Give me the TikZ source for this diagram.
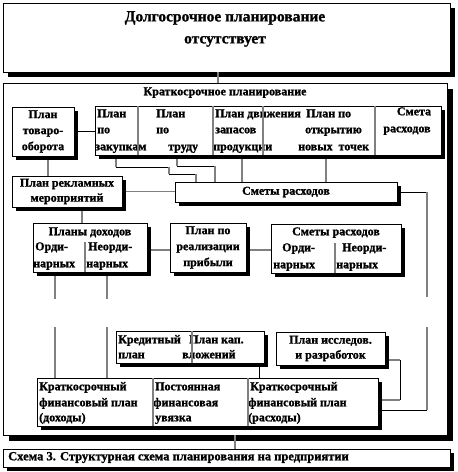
\documentclass[tikz,border=0pt]{standalone}
\usepackage{fontspec}
\setmainfont{Liberation Serif}[BoldFeatures={FakeBold=1.2}]
\usetikzlibrary{shadows}
\pgfdeclarelayer{bg}
\pgfdeclarelayer{conn}
\pgfsetlayers{bg,conn,main}
\tikzset{
  box/.style={draw=black, line width=0.8pt, fill=white, inner sep=0pt, outer sep=0pt,
    anchor=north west, general shadow={fill=black, shadow xshift=#1, shadow yshift=-#1}},
  box/.default=4pt,
  txt/.style={font=\bfseries\fontsize{12}{16}\selectfont, inner sep=0pt, align=center},
  lt/.style={txt, anchor=mid west},
  ct/.style={txt, anchor=mid},
  gl/.style={draw=gray, line width=1.4pt},
  bl/.style={draw=black, line width=0.8pt},
  dv/.style={draw=gray, line width=1.2pt},
}
\begin{document}
\begin{tikzpicture}[x=1pt,y=-1pt]
\useasboundingbox (0,0) rectangle (458,472);
\begin{pgfonlayer}{bg}
\fill[white] (0,0) rectangle (458,472);
\node[box=5pt, minimum width=447pt, minimum height=69pt] (top) at (3,3) {};
\node[box=6pt, minimum width=444pt, minimum height=352pt] (outer) at (3,83) {};
\end{pgfonlayer}
\node[txt, font=\bfseries\fontsize{15.5}{22}\selectfont] (toptxt) at (225,29) {Долгосрочное планирование\\отсутствует};
\node[ct] (outtitle) at (225,93) {Краткосрочное планирование};

% boxes
\node[box, minimum width=62pt, minimum height=49pt, txt, anchor=north west] (tov) at (12,107) {План\\товаро-\\оборота};
\node[box, minimum width=346pt, minimum height=49pt] (row) at (95,106) {};
\node[box, minimum width=110pt, minimum height=31pt, txt, anchor=north west, font=\bfseries\fontsize{12}{15}\selectfont] (rek) at (12,176) {План рекламных\\мероприятий};
\node[box, minimum width=222pt, minimum height=20pt, txt, anchor=north west] (smm) at (175,182) {Сметы расходов};
\node[box, minimum width=114pt, minimum height=49pt] (doh) at (33,223) {};
\node[box, minimum width=76pt, minimum height=49pt, txt, anchor=north west] (real) at (170,223) {План по\\реализации\\прибыли};
\node[box, minimum width=130pt, minimum height=49pt] (smb) at (271,224) {};
\node[box, minimum width=148pt, minimum height=32pt] (kred) at (116,331) {};
\node[box, minimum width=109pt, minimum height=33pt, txt, anchor=north west, font=\bfseries\fontsize{12}{15}\selectfont] (issl) at (276,332) {План исследов.\\и разработок};
\node[box, minimum width=341pt, minimum height=48pt] (fin) at (37,378) {};
\node[box, minimum width=447pt, minimum height=18pt] (cap) at (3,449) {};

% texts in row
\node[lt] (r1a) at (97,115) {План};
\node[lt] (r1b) at (97,131) {по};
\node[lt] (r1c) at (95,148) {закупкам};
\node[lt] (r2a) at (156,115) {План};
\node[lt] (r2b) at (156,131) {по};
\node[lt] (r2c) at (168,148) {труду};
\node[lt] (r3a) at (215,115) {План движения};
\node[lt] (r3b) at (215,131) {запасов};
\node[lt] (r3c) at (213,148) {продукции};
\node[lt] (r4a) at (306,115) {План по};
\node[lt] (r4b) at (305,131) {открытию};
\node[lt] (r4c) at (298,148) {новых\ \ точек};
\node[ct] (r5a) at (414,113) {Смета};
\node[ct] (r5b) at (407,130) {расходов};

% texts in doh
\node[ct] (dt) at (90,233) {Планы доходов};
\node[lt] (d1) at (35,248) {Орди-};
\node[lt] (d2) at (33,265) {нарных};
\node[lt] (d3) at (88,248) {Неорди-};
\node[lt] (d4) at (86,265) {нарных};
% texts in smb
\node[ct] (st) at (336,233) {Сметы расходов};
\node[lt] (s1) at (282,249) {Орди-};
\node[lt] (s2) at (273,266) {нарных};
\node[lt] (s3) at (342,249) {Неорди-};
\node[lt] (s4) at (336,266) {нарных};
% kred
\node[lt] (k1) at (118,341) {Кредитный};
\node[lt] (k2) at (118,356) {план};
\node[lt] (k3) at (189,341) {План кап.};
\node[lt] (k4) at (182,356) {вложений};
% fin
\node[lt] (f1) at (39,388) {Краткосрочный};
\node[lt] (f2) at (39,404) {финансовый план};
\node[lt] (f3) at (39,419) {(доходы)};
\node[lt] (f4) at (155,388) {Постоянная};
\node[lt] (f5) at (153,404) {финансовая};
\node[lt] (f6) at (155,419) {увязка};
\node[lt] (f7) at (250,388) {Краткосрочный};
\node[lt] (f8) at (248,404) {финансовый план};
\node[lt] (f9) at (248,419) {(расходы)};
% caption
\node[lt, font=\bfseries\fontsize{12.5}{16}\selectfont] (captxt) at (8,458) {Схема 3. Структурная схема планирования на предприятии};

% dividers
\foreach \o in {43,118,168,280}
  \draw[dv] ([xshift=\o pt]row.north west) -- ([xshift=\o pt]row.south west);
\draw[dv] ([xshift=52pt]doh.south west) -- ++(0,-30);
\draw[dv] ([xshift=64pt]smb.south west) -- ++(0,-30);
\draw[dv] ([xshift=76pt]kred.north west) -- ([xshift=76pt]kred.south west);
\draw[dv] ([xshift=116pt]fin.north west) -- ([xshift=116pt]fin.south west);
\draw[dv] ([xshift=211pt]fin.north west) -- ([xshift=211pt]fin.south west);

% connectors
\begin{pgfonlayer}{conn}
\draw[gl] ([xshift=215pt]top.south west) -- ([xshift=215pt]outer.north west);
\draw[bl] (tov.east) -- (tov.east -| row.west);
\draw[gl] ([xshift=36pt]tov.south west) -- ([xshift=36pt]rek.north west);
\draw[gl] (rek.east) -- (rek.east -| smm.west);
% path A
\draw[gl] ([xshift=21pt]row.south west) -- ++(0,12) coordinate (a1);
\draw[bl] (a1) -- ++(53,0) coordinate (a2);
\draw[gl] (a2) -- ++(0,7) coordinate (a3);
\draw[bl] (a3) -- ++(27,0) coordinate (a4);
\draw[gl] (a4) -- (a4 |- smm.north);
% path B
\draw[gl] ([xshift=82pt]row.south west) -- ++(0,11) coordinate (b1);
\draw[bl] (b1) -- ++(38,0) coordinate (b2);
\draw[gl] (b2) -- (b2 |- smm.north);
\draw[gl] ([xshift=147pt]row.south west) coordinate (c1) -- (c1 |- smm.north);
\draw[gl] ([xshift=231pt]row.south west) coordinate (c2) -- (c2 |- smm.north);
% right long
\draw[bl] (smm.east) -- ++(30,0) coordinate (e1);
\draw[gl] (e1) -- ++(0,105);
\coordinate (e2) at ([yshift=16pt]fin.south east);
\draw[gl] ([yshift=-135pt]e1) -- (e1 |- e2);
\draw[bl] (e1 |- e2) -- (e2);
% from doh
\draw[gl] ([xshift=22pt]doh.south west) coordinate (g1) -- ++(0,27);
\draw[gl] ([yshift=-55pt]g1) -- (g1 |- fin.north);
\draw[gl] ([xshift=74pt]doh.south west) coordinate (g2) -- ++(0,27);
\draw[gl] ([yshift=-55pt]g2) -- (g2 |- fin.north);
\draw[gl] ([xshift=70pt]rek.south west) coordinate (h1) -- (h1 |- doh.north);
\draw[gl] ([yshift=-2.5pt]doh.east) coordinate (h2) -- (h2 -| real.west);
\draw[gl] ([yshift=-2.5pt]real.east) coordinate (h3) -- (h3 -| smb.west);
\draw[bl] ([xshift=143pt]kred.south west) coordinate (k0) -- (k0 |- fin.north);
\draw[gl] ([yshift=-11.5pt]issl.east) -- ++(15,0) coordinate (i1);
\draw[bl] (i1) -- ++(0,40) coordinate (i2);
\draw[gl] (i2) -- (i2 -| fin.east);
\draw[gl] ([xshift=232pt]outer.south west) coordinate (o1) -- (o1 |- cap.north);
\end{pgfonlayer}
\end{tikzpicture}
\end{document}
